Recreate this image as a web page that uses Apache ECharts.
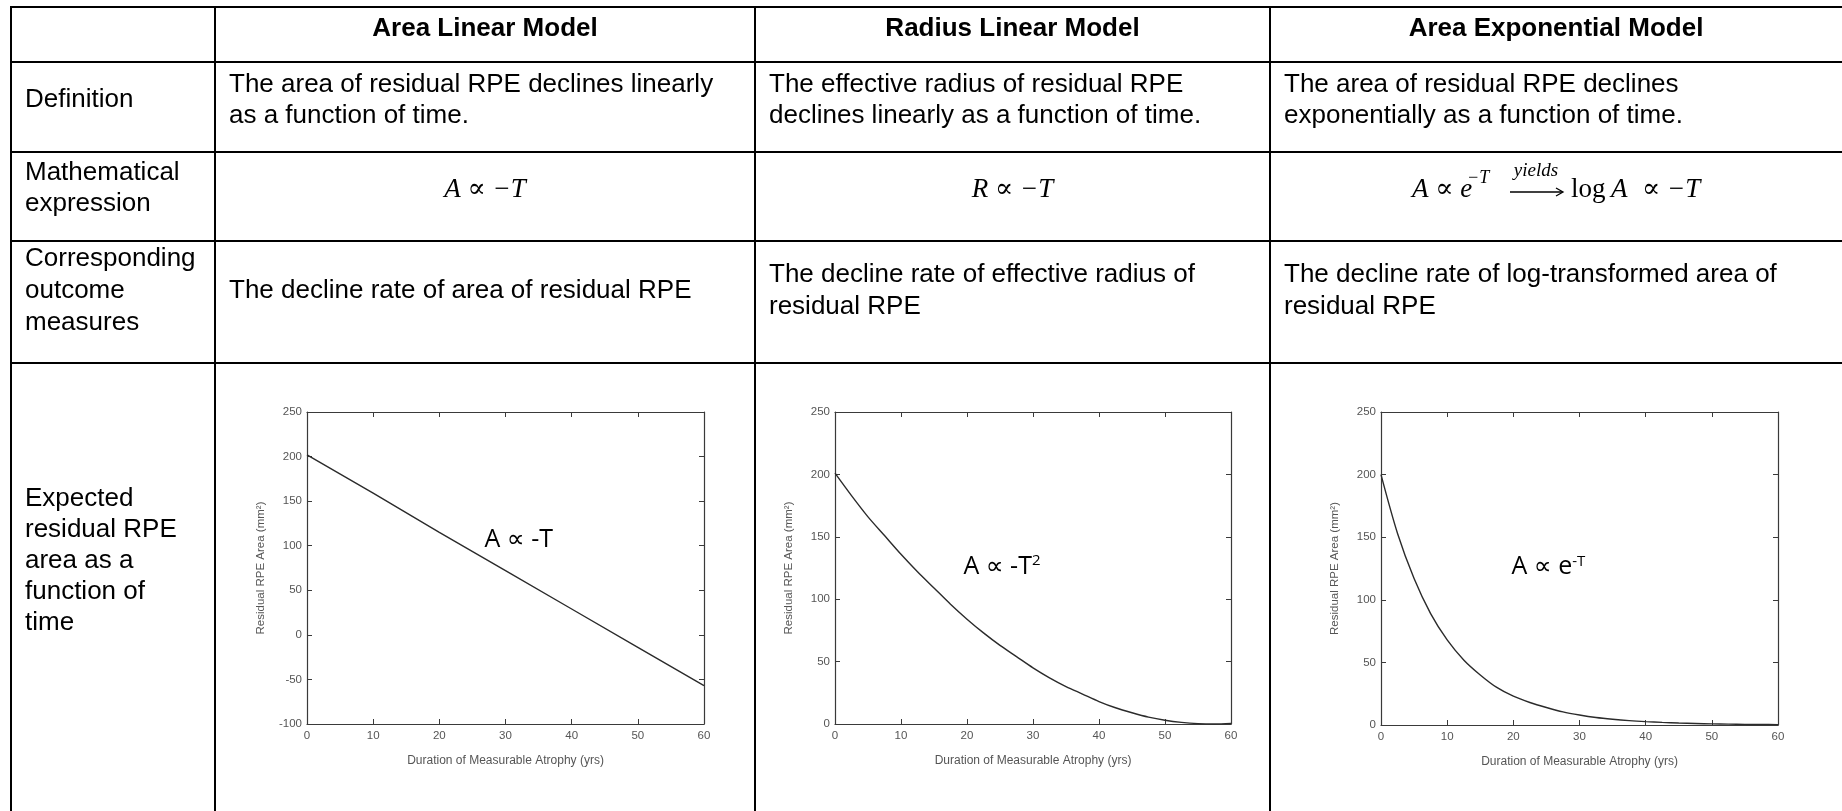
<!DOCTYPE html>
<html><head><meta charset="utf-8">
<script src="https://cdn.jsdelivr.net/npm/echarts@6/dist/echarts.min.js"></script>
<style>html,body{margin:0;padding:0;background:#fff}#c{width:1842px;height:811px}</style>
</head><body><div id="c"></div>
<script>
// ---------- table content ----------
const columnHeaders = ['Area Linear Model', 'Radius Linear Model', 'Area Exponential Model'];
const rowLabels = ['Definition', 'Mathematical\nexpression', 'Corresponding\noutcome\nmeasures', 'Expected\nresidual RPE\narea as a\nfunction of\ntime'];
const definitions = [
  'The area of residual RPE declines linearly\nas a function of time.',
  'The effective radius of residual RPE\ndeclines linearly as a function of time.',
  'The area of residual RPE declines\nexponentially as a function of time.'
];
const outcomes = [
  'The decline rate of area of residual RPE',
  'The decline rate of effective radius of\nresidual RPE',
  'The decline rate of log-transformed area of\nresidual RPE'
];
const annotations = ['A ∝ -T', 'A ∝ -T{s|2}', 'A ∝ e{s|-T}'];
const xAxisTitle = 'Duration of Measurable Atrophy (yrs)';
const yAxisTitle = 'Residual RPE Area (mm²)';

// ---------- chart data ----------
const yearsLinear = [0, 10, 20, 30, 40, 50, 60];
const areaLinear = [202, 159, 115, 72, 29, -14, -57];
const years = [0, 2.5, 5, 7.5, 10, 12.5, 15, 17.5, 20, 22.5, 25, 27.5, 30, 32.5, 35, 37.5, 40, 42.5, 45, 47.5, 50, 52.5, 55, 57.5, 60];
const radiusLinearArea = [201, 183, 166, 151, 136, 122, 109, 96, 84, 73, 63, 54, 45, 37, 30, 24, 18, 13, 9, 5.5, 3, 1.3, 0.3, 0, 0.5];
const areaExponential = [200, 153, 117, 89, 68, 52, 40, 30, 23, 18, 14, 10.5, 8, 6, 4.6, 3.5, 2.7, 2.1, 1.6, 1.2, 0.9, 0.7, 0.5, 0.4, 0.3];
const yRanges = [[-100, 250], [0, 250], [0, 250]];
const annotationAt = [[32, 106], [25.3, 126], [25.3, 126]];

// ---------- layout ----------
const SANS = '"Liberation Sans", Arial, sans-serif';
const SERIF = '"Liberation Serif", "DejaVu Serif", serif';
const colX = [11, 215, 755, 1270, 1842];
const rowY = [7, 62, 152, 241, 363, 811];
const PAD = 14;
const FS = 26;
const LH = 31;

const graphics = [];
rowY.slice(0, 5).forEach(y => graphics.push({type: 'line', shape: {x1: colX[0] - 1, y1: y, x2: 1842, y2: y}, style: {stroke: '#000', lineWidth: 2}, z: 10}));
colX.slice(0, 4).forEach(x => graphics.push({type: 'line', shape: {x1: x, y1: rowY[0] - 1, x2: x, y2: 811}, style: {stroke: '#000', lineWidth: 2}, z: 10}));

function txt(text, x, y, opt) {
  opt = opt || {};
  graphics.push({type: 'text', x: x, y: y, z: 20, style: Object.assign({
    text: text, fill: '#000', fontSize: FS, fontFamily: SANS, lineHeight: LH,
    align: opt.align || 'left', verticalAlign: 'middle',
    textAlign: opt.align || 'left', textVerticalAlign: 'middle'
  }, opt.style || {})});
}
// headers
columnHeaders.forEach((h, i) => txt(h, (colX[i + 1] + colX[i + 2]) / 2, 29, {align: 'center', style: {fontWeight: 'bold'}}));
// row labels
const labelY = [100, 188, 291, 561];
rowLabels.forEach((l, i) => txt(l, colX[0] + PAD, labelY[i], i === 2 ? {style: {lineHeight: 32}} : {}));
// definitions
definitions.forEach((d, i) => txt(d, colX[i + 1] + PAD, 100));
// outcomes
outcomes.forEach((d, i) => txt(d, colX[i + 1] + PAD, 291, {style: {lineHeight: 32}}));
// math expressions
const mathY = 190;
const mathStyle = {fontFamily: SERIF, fontStyle: 'italic', fontSize: 27};
txt('A ∝ −T', (colX[1] + colX[2]) / 2, mathY, {align: 'center', style: mathStyle});
txt('R ∝ −T', (colX[2] + colX[3]) / 2, mathY, {align: 'center', style: mathStyle});
// third expression, composed
txt('A ∝ e', 1412, mathY, {style: mathStyle});
txt('−T', 1467, mathY - 12, {style: Object.assign({}, mathStyle, {fontSize: 18})});
txt('yields', 1536, mathY - 19, {align: 'center', style: Object.assign({}, mathStyle, {fontSize: 19})});
graphics.push({type: 'line', z: 20, shape: {x1: 1510, y1: mathY + 2, x2: 1562, y2: mathY + 2}, style: {stroke: '#000', lineWidth: 1.3}});
graphics.push({type: 'polyline', z: 20, shape: {points: [[1556, mathY - 2], [1563, mathY + 2], [1556, mathY + 6]]}, style: {stroke: '#000', lineWidth: 1.3, fill: null}});
txt('log', 1571, mathY, {style: Object.assign({}, mathStyle, {fontStyle: 'normal'})});
txt('A', 1611, mathY, {style: mathStyle});
txt('∝ −T', 1642, mathY, {style: mathStyle});

// ---------- charts ----------
const grids = [
  {left: 307, top: 412, width: 397, height: 312},
  {left: 835, top: 412, width: 396, height: 312},
  {left: 1381, top: 412, width: 397, height: 313}
];
const AX = '#3a3a3a';
const LBL = '#555';
const xAxes = [], yAxes = [], series = [];
const seriesData = [
  yearsLinear.map((t, i) => [t, areaLinear[i]]),
  years.map((t, i) => [t, radiusLinearArea[i]]),
  years.map((t, i) => [t, areaExponential[i]])
];
grids.forEach((g, i) => {
  const xi = xAxes.length, yi = yAxes.length;
  xAxes.push({type: 'value', gridIndex: i, min: 0, max: 60, interval: 10, position: 'bottom',
    name: xAxisTitle, nameLocation: 'middle', nameGap: 31,
    nameTextStyle: {color: LBL, fontSize: 12, fontFamily: SANS},
    axisLine: {show: true, onZero: false, lineStyle: {color: AX, width: 1.2}},
    axisTick: {show: true, inside: true, length: 5, lineStyle: {color: AX}},
    axisLabel: {color: LBL, fontSize: 11.5, fontFamily: SANS, margin: 6},
    splitLine: {show: false}});
  xAxes.push({type: 'value', gridIndex: i, min: 0, max: 60, interval: 10, position: 'top',
    axisLine: {show: true, onZero: false, lineStyle: {color: AX, width: 1.2}},
    axisTick: {show: true, inside: true, length: 5, lineStyle: {color: AX}},
    axisLabel: {show: false}, splitLine: {show: false}});
  yAxes.push({type: 'value', gridIndex: i, min: yRanges[i][0], max: yRanges[i][1], interval: 50, position: 'left',
    name: yAxisTitle, nameLocation: 'middle', nameGap: 40, nameRotate: 90,
    nameTextStyle: {color: LBL, fontSize: 11.5, fontFamily: SANS},
    axisLine: {show: true, onZero: false, lineStyle: {color: AX, width: 1.2}},
    axisTick: {show: true, inside: true, length: 5, lineStyle: {color: AX}},
    axisLabel: {color: LBL, fontSize: 11.5, fontFamily: SANS, margin: 5},
    splitLine: {show: false}});
  yAxes.push({type: 'value', gridIndex: i, min: yRanges[i][0], max: yRanges[i][1], interval: 50, position: 'right',
    axisLine: {show: true, onZero: false, lineStyle: {color: AX, width: 1.2}},
    axisTick: {show: true, inside: true, length: 5, lineStyle: {color: AX}},
    axisLabel: {show: false}, splitLine: {show: false}});
  series.push({type: 'line', xAxisIndex: xi, yAxisIndex: yi, data: seriesData[i],
    showSymbol: false, symbol: 'none', smooth: i === 0 ? false : 0.3, clip: true,
    lineStyle: {color: '#2b2b2b', width: 1.4}, silent: true, animation: false,
    markPoint: {symbol: 'circle', symbolSize: 0, silent: true, animation: false,
      data: [{coord: annotationAt[i], value: 0}],
      label: {show: true, position: 'inside', formatter: annotations[i], color: '#000',
        fontFamily: '"Open Sans", "DejaVu Sans", sans-serif', fontSize: 25,
        rich: {s: {fontSize: 15, verticalAlign: 'top', padding: [0, 0, 12, 0], fontFamily: '"Open Sans", sans-serif', color: '#000'}}}}});
});

const chart = echarts.init(document.getElementById('c'), null, {renderer: 'canvas'});
chart.setOption({
  animation: false,
  backgroundColor: '#fff',
  grid: grids,
  xAxis: xAxes,
  yAxis: yAxes,
  series: series,
  graphic: {elements: graphics}
});
</script></body></html>
